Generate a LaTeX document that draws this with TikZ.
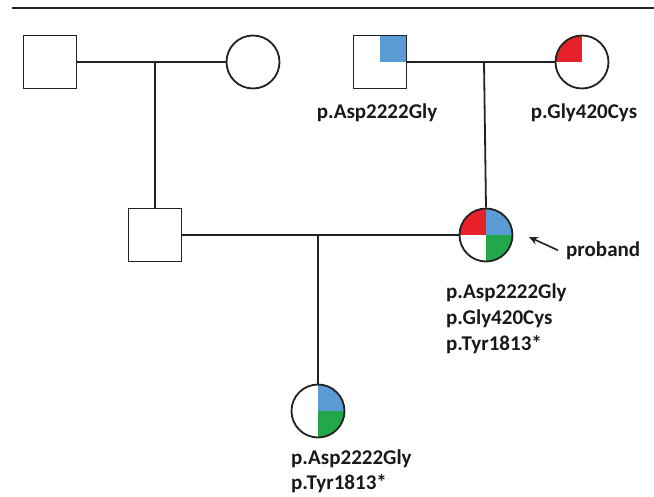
\documentclass[tikz,border=0pt]{standalone}
\usepackage{fontspec}
\setmainfont{Carlito}
\usetikzlibrary{arrows.meta}
\definecolor{mblue}{HTML}{5B9BD5}
\definecolor{mred}{HTML}{E8202A}
\definecolor{mgreen}{HTML}{22A84A}
\definecolor{ink}{HTML}{222222}
\begin{document}
\begin{tikzpicture}[x=1pt,y=-1pt,
  ind/.style={draw=ink, line width=1.8pt, minimum size=53pt, inner sep=0pt, fill=white},
  male/.style={ind, rectangle},
  female/.style={ind, circle},
  quad/.style n args={4}{path picture={
    \fill[#1] (path picture bounding box.center) rectangle (path picture bounding box.north west);
    \fill[#2] (path picture bounding box.center) rectangle (path picture bounding box.north east);
    \fill[#3] (path picture bounding box.center) rectangle (path picture bounding box.south east);
    \fill[#4] (path picture bounding box.center) rectangle (path picture bounding box.south west);}},
  rel/.style={draw=ink, line width=1.8pt},
  lab/.style={font=\bfseries\fontsize{21}{25}\selectfont, inner sep=0pt, anchor=base west, text=black!90},
  arr/.style={draw=ink, line width=1.6pt, -{Stealth[length=9pt,width=8pt]}}
]
\useasboundingbox (0,0) rectangle (654,496);
\draw[ink, line width=1.4pt] (12,8) -- (654,8);

% generation I
\node[male]   (gf1) at (50,62) {};
\node[female] (gm1) at (253,62) {};
\node[male, quad={white}{mblue}{white}{white}]   (gf2) at (380,62) {};
\node[female, quad={mred}{white}{white}{white}] (gm2) at (582,62) {};

% generation II
\node[male] (f) at (155,235) {};
\node[female, quad={mred}{mblue}{mgreen}{white}] (p) at (486,235) {};

% generation III
\node[female, quad={white}{mblue}{mgreen}{white}] (c) at (318,411) {};

% connectors
\draw[rel] (gf1.east) -- (gm1.west);
\coordinate (m1) at (155,62);
\draw[rel] (m1) -- (f.north);
\draw[rel] (gf2.east) -- (gm2.west);
\coordinate (m2) at (484,62);
\draw[rel] (m2) -- (p.north);
\draw[rel] (f.east) -- (p.west);
\coordinate (m3) at (318,235);
\draw[rel] (m3) -- (c.north);

% labels
\node[lab, anchor=base] (l1) at (377,118) {p.Asp2222Gly};
\node[lab, anchor=base] (l2) at (584,118) {p.Gly420Cys};
\node[lab] (l3) at (446,298) {p.Asp2222Gly};
\node[lab] (l4) at (446,324) {p.Gly420Cys};
\node[lab] (l5) at (446,350) {p.Tyr1813*};
\node[lab] (l6) at (291,464) {p.Asp2222Gly};
\node[lab] (l7) at (291,489) {p.Tyr1813*};

\node[lab] (pb) at (566,256) {proband};
\coordinate (tip) at (529,237);
\draw[arr] ([shift={(-8,0)}]pb.west) -- (tip);
\end{tikzpicture}
\end{document}
